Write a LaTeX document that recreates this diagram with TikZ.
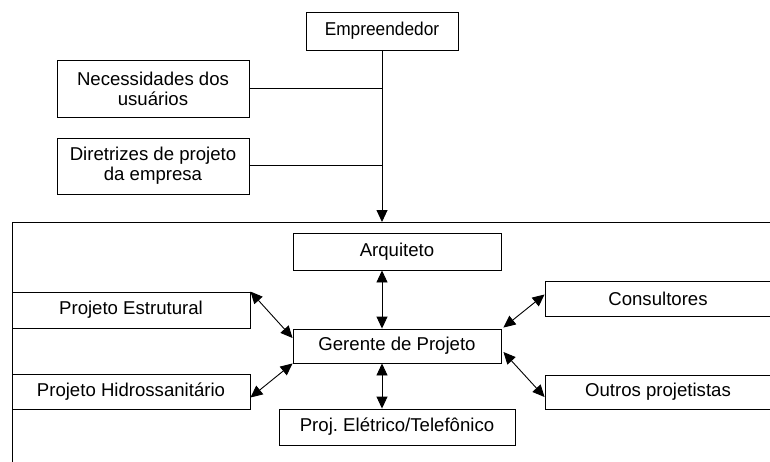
\documentclass[tikz,border=0pt]{standalone}
\usepackage{fontspec}
\setmainfont{Liberation Sans}
\usetikzlibrary{arrows.meta,calc}
\frenchspacing
\begin{document}
\begin{tikzpicture}[x=1pt,y=-1pt,
  box/.style={draw=black,line width=0.9pt,inner sep=0pt,align=center,
    font=\fontsize{18.6}{20}\selectfont},
  conn/.style={line width=0.9pt},
  dbl/.style={line width=0.9pt,{Triangle[length=12pt,width=11pt]}-{Triangle[length=12pt,width=11pt]}},
  one/.style={line width=0.9pt,-{Triangle[length=12pt,width=11pt]}}]
\useasboundingbox (0,0) rectangle (770,461);
\clip (0,0) rectangle (770,461);
% nodes
\node[box,minimum width=152pt,minimum height=38pt] (emp) at (382,31) {\scalebox{0.93}[1]{Empreendedor}};
\node[box,minimum width=192pt,minimum height=57pt] (nec) at (153,88.5) {Necessidades dos\\usuários};
\node[box,minimum width=192pt,minimum height=56pt] (dir) at (153,166) {Diretrizes de projeto\\da empresa};
\node[box,minimum width=208pt,minimum height=37pt] (arq) at (397,251.5) {Arquiteto};
\node[box,minimum width=208pt,minimum height=34pt] (ger) at (397,346) {Gerente de Projeto};
\node[box,minimum width=236pt,minimum height=36pt] (ele) at (397,427) {Proj. Elétrico/Telefônico};
\node[box,minimum width=238pt,minimum height=36pt] (est) at (131,310) {Projeto Estrutural};
\node[box,minimum width=238pt,minimum height=35pt] (hid) at (131,391.5) {Projeto Hidrossanitário};
\node[box,minimum width=232pt,minimum height=35pt] (con) at (661,298.5) {\hspace*{-6pt}Consultores};
\node[box,minimum width=232pt,minimum height=34pt] (out) at (661,392) {\hspace*{-6pt}Outros projetistas};
% frame
\draw[conn] (780,222) -- (12,222) -- (12,470);
% coordinates on the vertical feed line
\coordinate (j1) at (382,88);
\coordinate (j2) at (382,165);
\coordinate (ftop) at (382,222);
\draw[conn] (emp.south -| ftop) -- (j1);
\draw[conn] (nec.east |- j1) -- (j1);
\draw[conn] (dir.east |- j2) -- (j2);
\draw[one] (j1) -- (ftop);
% arrows
\draw[dbl] (arq.south -| ftop) -- (ger.north -| ftop);
\draw[dbl] (ger.south -| ftop) -- (ele.north -| ftop);
\draw[dbl] (est.north east) -- ([yshift=8pt]ger.west);
\draw[dbl] ([yshift=-6pt]hid.east) -- (ger.south west);
\draw[dbl] ([shift={(2pt,1pt)}]ger.north east) -- ([yshift=4pt]con.west);
\draw[dbl] ([shift={(2pt,-6pt)}]ger.east) -- ([yshift=-5pt]out.west);
\end{tikzpicture}
\end{document}
